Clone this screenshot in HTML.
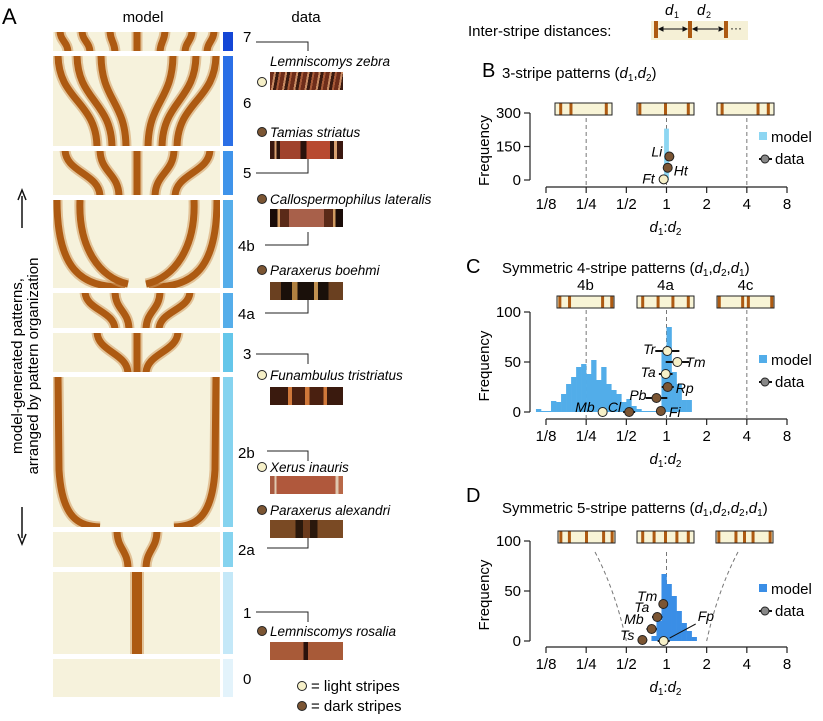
<!DOCTYPE html>
<html><head><meta charset="utf-8"><style>
html,body{margin:0;padding:0;background:#fff}
svg{display:block;font-family:"Liberation Sans",Arial,sans-serif}
.photo{position:absolute;left:270px;width:73px;height:18px}
</style></head><body>
<div style="position:relative;width:823px;height:721px">
<svg id="fig" width="823" height="721" viewBox="0 0 823 721" xmlns="http://www.w3.org/2000/svg">
<defs></defs>
<g id="left"></g>
<g id="right"></g>
</svg>
<div class="photo" style="top:72px;background:repeating-linear-gradient(100deg,#6e2d1a 0 4px,#c88a62 4px 6px,#3a1a10 6px 9px,#a85a38 9px 11px)"></div>
<div class="photo" style="top:141px;background:linear-gradient(90deg,#3a1810 0 6%,#d8a070 6% 9%,#2a120c 9% 14%,#a0422c 14% 42%,#2a120c 42% 50%,#b84a30 50% 82%,#2a120c 82% 88%,#d8a070 88% 92%,#3a1810 92%)"></div>
<div class="photo" style="top:209px;background:linear-gradient(90deg,#1a0c08 0 10%,#d09a60 10% 14%,#5a2a18 14% 26%,#a8604a 26% 74%,#5a2a18 74% 86%,#d09a60 86% 90%,#1a0c08 90%)"></div>
<div class="photo" style="top:282px;background:linear-gradient(90deg,#6a4020 0 15%,#1a100a 15% 30%,#b08040 30% 38%,#1a100a 38% 60%,#c09050 60% 66%,#1a100a 66% 80%,#6a4020 80%)"></div>
<div class="photo" style="top:387px;background:linear-gradient(90deg,#3a1a0e 0 25%,#d0783a 25% 30%,#4a2010 30% 48%,#d0783a 48% 54%,#4a2010 54% 73%,#d0783a 73% 78%,#3a1a0e 78%)"></div>
<div class="photo" style="top:476px;background:linear-gradient(90deg,#a85a40 0 6%,#e0c8b0 6% 9%,#b0583c 9% 90%,#e0c8b0 90% 94%,#b86848 94%)"></div>
<div class="photo" style="top:520px;background:linear-gradient(90deg,#7a4a24 0 35%,#2a180c 35% 45%,#6a3a1c 45% 55%,#2a180c 55% 65%,#7a4a24 65%)"></div>
<div class="photo" style="top:642px;background:linear-gradient(90deg,#a85a38 0 46%,#2a120c 46% 52%,#a85a38 52%)"></div>
</div>
<script>
// ---- Panel data ----
const xTicks = [-3,-2,-1,0,1,2,3];
const xTickLabels = ["1/8","1/4","1/2","1","2","4","8"];
const binStart = -3.25, binWidth = 0.125;
const histB = [[-0.06,0.06,230]];
const histC = [3,1,1,11,10,18,28,35,45,48,38,52,32,45,28,22,18,10,13,6,3,1,1,1,2,60,85,40,28,12,12];
const histD = [0,0,0,0,0,0,0,0,0,0,0,0,0,0,0,0,0,0,0,0,0,0,0,5,20,67,57,45,30,18,10,4];
const ptsBnames = ["Li","Ht","Ft"];
const ptsBx = [0.07,0.03,-0.07];
const ptsBy = [105,55,3];
const ptsBerr = [0.12,0.05,0.12];
const ptsBlight = [false,false,true];
const ptsCnames = ["Tr","Tm","Ta","Rp","Pb","Fi","Mb","Cl"];
const ptsCx = [0.02,0.27,-0.02,0.03,-0.25,-0.14,-1.59,-0.93];
const ptsCy = [61,50,38,25,14,1,0,0];
const ptsCerr = [0.3,0.29,0.17,0.15,0.27,0.08,0.08,0.15];
const ptsClight = [true,true,true,false,false,false,true,false];
const ptsDnames = ["Tm","Ta","Mb","Ts","Fp"];
const ptsDx = [-0.08,-0.23,-0.37,-0.6,-0.07];
const ptsDy = [37,24,12,1,0];
const ptsDerr = [0.06,0.13,0.13,0.12,0.15];
const ptsDlight = [false,false,false,false,true];

const NS="http://www.w3.org/2000/svg";
const L=document.getElementById('left'), R=document.getElementById('right');
function mk(tag,attrs,parent,txt){const e=document.createElementNS(NS,tag);for(const k in attrs)e.setAttribute(k,attrs[k]);if(txt!==undefined)e.textContent=txt;parent.appendChild(e);return e;}
const BROWN="#ad5a12", LIGHT="#f6f2dc", CREAM="#f6f0c8", DARKPT="#7b5533";
const X0=546, X1=787; const xs=v=>X0+(v+3)*(X1-X0)/6;

// ---------- Panel A ----------
let t;
t=mk('text',{x:2,y:24,'font-size':22},L,'A');

t=mk('text',{x:143,y:22,'font-size':15,'text-anchor':'middle'},L,'model');

t=mk('text',{x:306,y:22,'font-size':15,'text-anchor':'middle'},L,'data');

const blocks=[
 {n:'7',y0:32,y1:51,c:'#1446d6',s:[[60,68],[82,90],[110,115],[137,137],[165,160],[192,185],[214,207]]},
 {n:'6',y0:56,y1:146,c:'#2b6fe6',s:[[58,97],[77,112],[101,126],[173,148],[196,162],[216,177]]},
 {n:'5',y0:151,y1:195,c:'#3f93ea',s:[[65,100],[100,119],[137,137],[174,155],[210,175]]},
 {n:'4b',y0:200,y1:288,c:'#55adea',u:true},
 {n:'4a',y0:293,y1:328,c:'#55adea',s:[[85,115],[115,129],[160,146],[190,159]]},
 {n:'3',y0:333,y1:372,c:'#64c6ea',s:[[97,128],[137,137],[178,146]]},
 {n:'2b',y0:377,y1:527,c:'#85d3ef',w:true},
 {n:'2a',y0:532,y1:567,c:'#85d3ef',s:[[117,128],[157,146]]},
 {n:'1',y0:572,y1:654,c:'#c4e8f8',s:[[137,137]],single:true},
 {n:'0',y0:659,y1:697,c:'#e3f3fb',s:[]}
];
const defs=document.querySelector('defs');
blocks.forEach((b,i)=>{
 const cp=mk('clipPath',{id:'cp'+i},defs);mk('rect',{x:53,y:b.y0,width:167,height:b.y1-b.y0},cp);
 const g=mk('g',{'clip-path':'url(#cp'+i+')'},L);
 
 mk('rect',{x:53,y:b.y0,width:167,height:b.y1-b.y0,fill:LIGHT},g);
 const paths=[];const ym=(b.y0+b.y1)/2;
 if(b.u){
  paths.push(`M57 ${b.y0} C57 ${b.y1-20},80 ${b.y1},125 ${b.y1-1}`);
  paths.push(`M80 ${b.y0} C78 ${b.y1-40},100 ${b.y1-10},128 ${b.y1-4}`);
  paths.push(`M217 ${b.y0} C217 ${b.y1-20},194 ${b.y1},149 ${b.y1-1}`);
  paths.push(`M194 ${b.y0} C196 ${b.y1-40},174 ${b.y1-10},146 ${b.y1-4}`);
 } else if(b.w){
  paths.push(`M58 ${b.y0} L59 470 C62 520,80 526,100 527`);
  paths.push(`M216 ${b.y0} L215 470 C212 520,194 526,174 527`);
 } else b.s.forEach(s=>paths.push(`M${s[0]} ${b.y0-2} C${s[0]} ${ym},${s[1]} ${ym},${s[1]} ${b.y1+2}`));
 paths.forEach(d=>{
  mk('path',{d,stroke:'#d29a5e',fill:'none','stroke-width':b.single?14:11,'opacity':0.55},g);
  mk('path',{d,stroke:BROWN,fill:'none','stroke-width':b.single?10:7},g);
 });
 const r=mk('rect',{x:223,y:b.y0,width:10,height:b.y1-b.y0,fill:b.c},L);
 
});
const numLabels=[['7',42],['6',108],['5',178],['4b',251],['4a',319],['3',359],['2b',458],['2a',555],['1',618],['0',684]];
numLabels.forEach(n=>{const e=mk('text',{x:n[0].length>1?238:243,y:n[1],'font-size':15},L,n[0]);
 });
const conn=[[256,42,51],[256,173,159],[265,245,232],[265,313,300],[256,354,364],[267,451,461],[267,548,538],[256,612,622]];
conn.forEach(c=>{const e=mk('path',{d:`M${c[0]} ${c[1]} H308 V${c[2]}`,stroke:'#222',fill:'none','stroke-width':1},L);
 });
const species=[['Lemniscomys zebra',66,null],['Tamias striatus',137,false],['Callospermophilus lateralis',204,false],['Paraxerus boehmi',275,false],['Funambulus tristriatus',380,true],['Xerus inauris',472,true],['Paraxerus alexandri',515,false],['Lemniscomys rosalia',636,false]];
species.forEach(s=>{const e=mk('text',{x:270,y:s[1],'font-size':13.5,'font-style':'italic'},L,s[0]);
 
 const cy=s[2]===null?82:s[1]-5;
 const c=mk('circle',{cx:262,cy,r:4.5,fill:s[2]===false?DARKPT:CREAM,stroke:'#222','stroke-width':1},L);
 });
[['= light stripes',691,true],['= dark stripes',711,false]].forEach(l=>{
 const c=mk('circle',{cx:302,cy:l[1]-5,r:4.5,fill:l[2]?CREAM:DARKPT,stroke:'#222'},L);
 
 const e=mk('text',{x:311,y:l[1],'font-size':15},L,l[0]);
 });
t=mk('text',{transform:'translate(22,366) rotate(-90)','font-size':15,'text-anchor':'middle'},L,'model-generated patterns,');

t=mk('text',{transform:'translate(38,366) rotate(-90)','font-size':15,'text-anchor':'middle'},L,'arranged by pattern organization');

t=mk('path',{d:'M22 228 V196 M18 200 L22 190 L26 200',stroke:'#111',fill:'none','stroke-width':1.5},L);

t=mk('path',{d:'M22 507 V538 M18 534 L22 544 L26 534',stroke:'#111',fill:'none','stroke-width':1.5},L);


// ---------- Header ----------
t=mk('text',{x:468,y:36,'font-size':15},R,'Inter-stripe distances:');

const hg=mk('g',{},R);
mk('rect',{x:651,y:21,width:97,height:19,fill:'#f5f0d6'},hg);
[656,690,726].forEach(x=>mk('rect',{x:x-2,y:21,width:4,height:17,fill:BROWN},hg));
mk('path',{d:'M659 29 H687 M718 29 H693 M659 29 l4 -2 v4 z M687 29 l-4 -2 v4 z M693 29 l4 -2 v4 z M723 29 l-4 -2 v4 z',stroke:'#111','stroke-width':1,fill:'#111'},hg);
mk('text',{x:730,y:32,'font-size':12},hg,'···');
mk('text',{x:665,y:15,'font-size':15,'font-style':'italic'},hg,'d');mk('text',{x:674,y:18,'font-size':9},hg,'1');
mk('text',{x:697,y:15,'font-size':15,'font-style':'italic'},hg,'d');mk('text',{x:706,y:18,'font-size':9},hg,'2');

function panel(cfg){
 const g=mk('g',{},R);
 
 const ys=v=>cfg.yb-(v/cfg.ymax)*(cfg.yb-cfg.yt);
 const pl=mk('text',{x:cfg.letterX,y:cfg.letterY,'font-size':20},g,cfg.letter);
 
 const tt=mk('text',{x:cfg.titleX,y:cfg.titleY,'font-size':15},g);
 
 mk('tspan',{},tt,cfg.title+' (');
 cfg.titleSubs.forEach((s,i)=>{mk('tspan',{'font-style':'italic'},tt,'d');mk('tspan',{'font-size':10,dy:3},tt,s);mk('tspan',{dy:-3},tt,i<cfg.titleSubs.length-1?',':')');});
 cfg.boxes.forEach((bx,i)=>{
  const ig=mk('g',{},g);
  mk('rect',{x:bx.x,y:cfg.boxY,width:57,height:12,fill:'#f8f4d6',stroke:'#222','stroke-width':1},ig);
  bx.s.forEach(f=>mk('rect',{x:bx.x+f*57-1.5,y:cfg.boxY+0.5,width:3,height:11,fill:BROWN},ig));
  if(bx.lab){const e=mk('text',{x:bx.x+28.5,y:cfg.boxY-6,'font-size':15,'text-anchor':'middle'},g,bx.lab);
   }
 });
 cfg.guides(g,ys);
 cfg.drawHist(g,ys);
 const ax=mk('path',{d:`M${cfg.ax} ${ys(0)} V${ys(cfg.ymax)}`,stroke:'#222',fill:'none','stroke-width':1.2},g);
 
 cfg.yTicks.forEach(v=>{mk('path',{d:`M${cfg.ax-6} ${ys(v)} H${cfg.ax}`,stroke:'#222','stroke-width':1.2},g);
  const e=mk('text',{x:cfg.ax-9,y:ys(v)+5,'font-size':15,'text-anchor':'end'},g,String(v));
  });
 const fy=(ys(0)+ys(cfg.ymax))/2+4;
 const ft=mk('text',{transform:`translate(${cfg.ax-41},${fy}) rotate(-90)`,'font-size':15,'text-anchor':'middle'},g,'Frequency');
 
 const xa=mk('path',{d:`M${X0} ${cfg.xaY} H${X1}`,stroke:'#222','stroke-width':1.2},g);
 
 xTicks.forEach((v,i)=>{mk('path',{d:`M${xs(v)} ${cfg.xaY} V${cfg.xaY+6}`,stroke:'#222','stroke-width':1.2},g);
  const e=mk('text',{x:xs(v),y:cfg.xaY+22,'font-size':15,'text-anchor':'middle'},g,xTickLabels[i]);
  });
 const xt=mk('text',{x:xs(0)-17,y:cfg.xaY+45,'font-size':15},g);
 mk('tspan',{'font-style':'italic'},xt,'d');mk('tspan',{'font-size':10,dy:3},xt,'1');mk('tspan',{dy:-3},xt,':');mk('tspan',{'font-style':'italic'},xt,'d');mk('tspan',{'font-size':10,dy:3},xt,'2');
 
 cfg.px.forEach((v,i)=>{
  const cx=xs(v),cy=ys(cfg.py[i]);const e=cfg.perr[i]*(X1-X0)/6;
  const pg=mk('g',{},g);
  mk('path',{d:`M${cx-e} ${cy} H${cx+e}`,stroke:'#111','stroke-width':2},pg);
  mk('circle',{cx,cy,r:4.5,fill:cfg.pl[i]?CREAM:DARKPT,stroke:'#222','stroke-width':1},pg);
  const lp=cfg.labelPos[i];
  mk('text',{x:cx+lp[0],y:cy+lp[1],'font-size':14,'font-style':'italic','text-anchor':lp[2]},pg,cfg.pn[i]);
  if(lp[3]) mk('path',{d:`M${cx+6} ${cy-3} L${cx+lp[0]-2} ${cy+lp[1]+3}`,stroke:'#111','stroke-width':1},pg);
 });
 const lg=mk('g',{},g);
 mk('rect',{x:759,y:cfg.legY-10,width:8,height:8,fill:cfg.color},lg);
 mk('text',{x:771,y:cfg.legY,'font-size':15},lg,'model');
 mk('path',{d:`M759 ${cfg.legY+17} H772`,stroke:'#111','stroke-width':2},lg);
 mk('circle',{cx:765,cy:cfg.legY+17,r:4,fill:'#888',stroke:'#222'},lg);
 mk('text',{x:775,y:cfg.legY+22,'font-size':15},lg,'data');
}
function binHist(arr,color){return (g,ys)=>arr.forEach((h,k)=>{if(!h)return;
 const a=binStart+k*binWidth;const r=mk('rect',{x:xs(a),y:ys(h),width:xs(a+binWidth)-xs(a)+0.3,height:ys(0)-ys(h),fill:color},g);
 });}
function vGuides(y0,y1){return (g,ys)=>[-2,0,2].forEach(v=>{const e=mk('path',{d:`M${xs(v)} ${y0} V${y1}`,stroke:'#777','stroke-dasharray':'4 3','stroke-width':1},g);
 });}

panel({name:'panel-b',letter:'B',letterX:482,letterY:77,title:'3-stripe patterns',titleSubs:['1','2'],titleX:502,titleY:78,
 yt:113,yb:180,ymax:300,yTicks:[0,150,300],ax:530,xaY:187,boxY:103,color:'#8dd6f2',legY:142,
 boxes:[{x:555,s:[0.1,0.28,0.9]},{x:637,s:[0.05,0.5,0.9]},{x:717,s:[0.09,0.72,0.9]}],
 guides:vGuides(118,187),
 drawHist:(g,ys)=>histB.forEach(h=>{const r=mk('rect',{x:xs(h[0]),y:ys(h[2]),width:xs(h[1])-xs(h[0]),height:ys(0)-ys(h[2]),fill:'#8dd6f2'},g);}),
 px:ptsBx,py:ptsBy,perr:ptsBerr,pl:ptsBlight,pn:ptsBnames,
 labelPos:[[-7,0,'end'],[6,8,'start'],[-9,4,'end']]});
panel({name:'panel-c',letter:'C',letterX:466,letterY:273,title:'Symmetric 4-stripe patterns',titleSubs:['1','2','1'],titleX:502,titleY:273,
 yt:312,yb:412,ymax:100,yTicks:[0,50,100],ax:530,xaY:419,boxY:296,color:'#52ade9',legY:365,
 boxes:[{x:557,s:[0.05,0.22,0.8,0.96],lab:'4b'},{x:637,s:[0.1,0.37,0.63,0.9],lab:'4a'},{x:717,s:[0.04,0.45,0.55,0.96],lab:'4c'}],
 guides:vGuides(310,418),
 drawHist:binHist(histC,'#52ade9'),
 px:ptsCx,py:ptsCy,perr:ptsCerr,pl:ptsClight,pn:ptsCnames,
 labelPos:[[-12,3,'end'],[8,5,'start'],[-10,3,'end'],[8,6,'start'],[-10,2,'end'],[8,6,'start'],[-8,0,'end'],[-8,0,'end']]});
panel({name:'panel-d',letter:'D',letterX:466,letterY:502,title:'Symmetric 5-stripe patterns',titleSubs:['1','2','2','1'],titleX:502,titleY:513,
 yt:541,yb:641,ymax:100,yTicks:[0,50,100],ax:530,xaY:647,boxY:531,color:'#3a8ee6',legY:594,
 boxes:[{x:558,s:[0.05,0.2,0.5,0.8,0.95]},{x:637,s:[0.1,0.3,0.5,0.7,0.9]},{x:716,s:[0.05,0.35,0.5,0.65,0.95]}],
 guides:(g,ys)=>{[`M595 552 Q615 590 ${xs(-1)} 641`,`M${xs(0)} 552 V641`,`M738 552 Q718 590 ${xs(1)} 641`].forEach(d=>{const e=mk('path',{d,stroke:'#777','stroke-dasharray':'4 3',fill:'none'},g);});},
 drawHist:binHist(histD,'#3a8ee6'),
 px:ptsDx,py:ptsDy,perr:ptsDerr,pl:ptsDlight,pn:ptsDnames,
 labelPos:[[-6,-3,'end'],[-8,-5,'end'],[-8,-5,'end'],[-8,0,'end'],[34,-20,'start',true]]});
</script>
</body></html>
